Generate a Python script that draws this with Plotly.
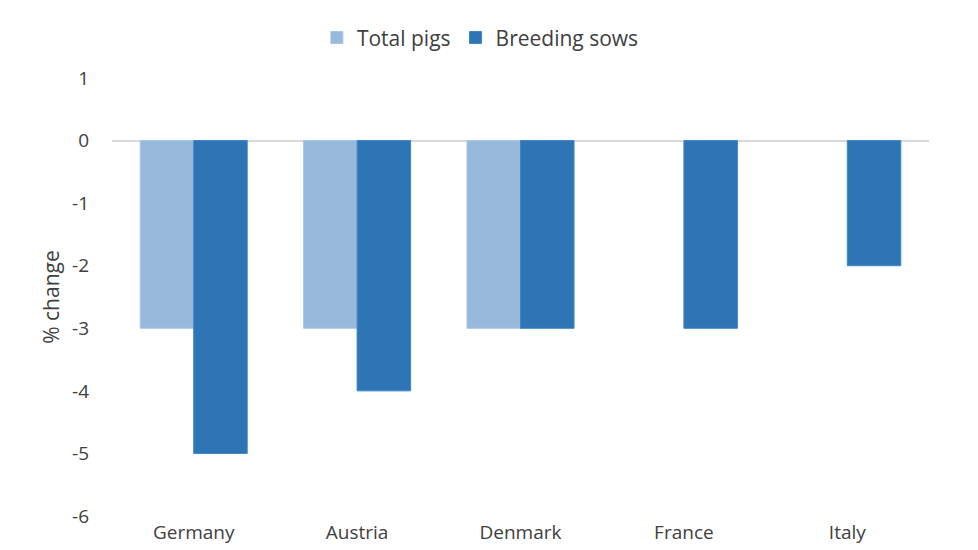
import plotly.graph_objects as go

# Pig herd change by country
countries = ["Germany", "Austria", "Denmark", "France", "Italy"]
total_pigs = [-3, -3, -3, None, None]
breeding_sows = [-5, -4, -3, -3, -2]

tick_vals = [1, 0, -1, -2, -3, -4, -5, -6]
tick_text = ["1", "0", "-1", "-2", "-3", "-4", "-5", "-6"]

font_family = "Open Sans, sans-serif"

fig = go.Figure()

fig.add_trace(go.Bar(
    x=countries,
    y=total_pigs,
    name="Total pigs",
    marker=dict(color="#97B9DB", line=dict(color="#A7C6E6", width=1)),
))

fig.add_trace(go.Bar(
    x=countries,
    y=breeding_sows,
    name="Breeding sows",
    marker=dict(color="#2E75B6", line=dict(color="#3D86C8", width=1)),
))

# page body has an 8px margin, so the figure is a bit smaller than the window
fig.update_layout(
    width=970,
    height=542,
    barmode="group",
    bargap=0.345,
    bargroupgap=0,
    plot_bgcolor="white",
    paper_bgcolor="white",
    font=dict(family=font_family, size=18, color="#404040"),
    margin=dict(l=104, r=49, t=70, b=34),
    xaxis=dict(
        showgrid=False,
        showline=False,
        ticks="",
        automargin=False,
        ticklabelstandoff=3,
        tickfont=dict(size=19, color="#404040"),
    ),
    yaxis=dict(
        range=[-6, 1],
        tickvals=tick_vals,
        ticktext=tick_text,
        showgrid=False,
        zeroline=True,
        zerolinecolor="#D9D9D9",
        zerolinewidth=2,
        ticks="",
        automargin=False,
        ticklabelstandoff=22,
        tickfont=dict(size=19, color="#404040"),
        title=dict(text="% change", font=dict(size=21, color="#404040"), standoff=6),
    ),
    legend=dict(
        orientation="h",
        xref="container",
        yref="container",
        x=0.487,
        y=0.945,
        xanchor="center",
        yanchor="middle",
        font=dict(size=21, color="#404040"),
        itemwidth=30,
    ),
    showlegend=True,
)

fig.write_html("out.html")
